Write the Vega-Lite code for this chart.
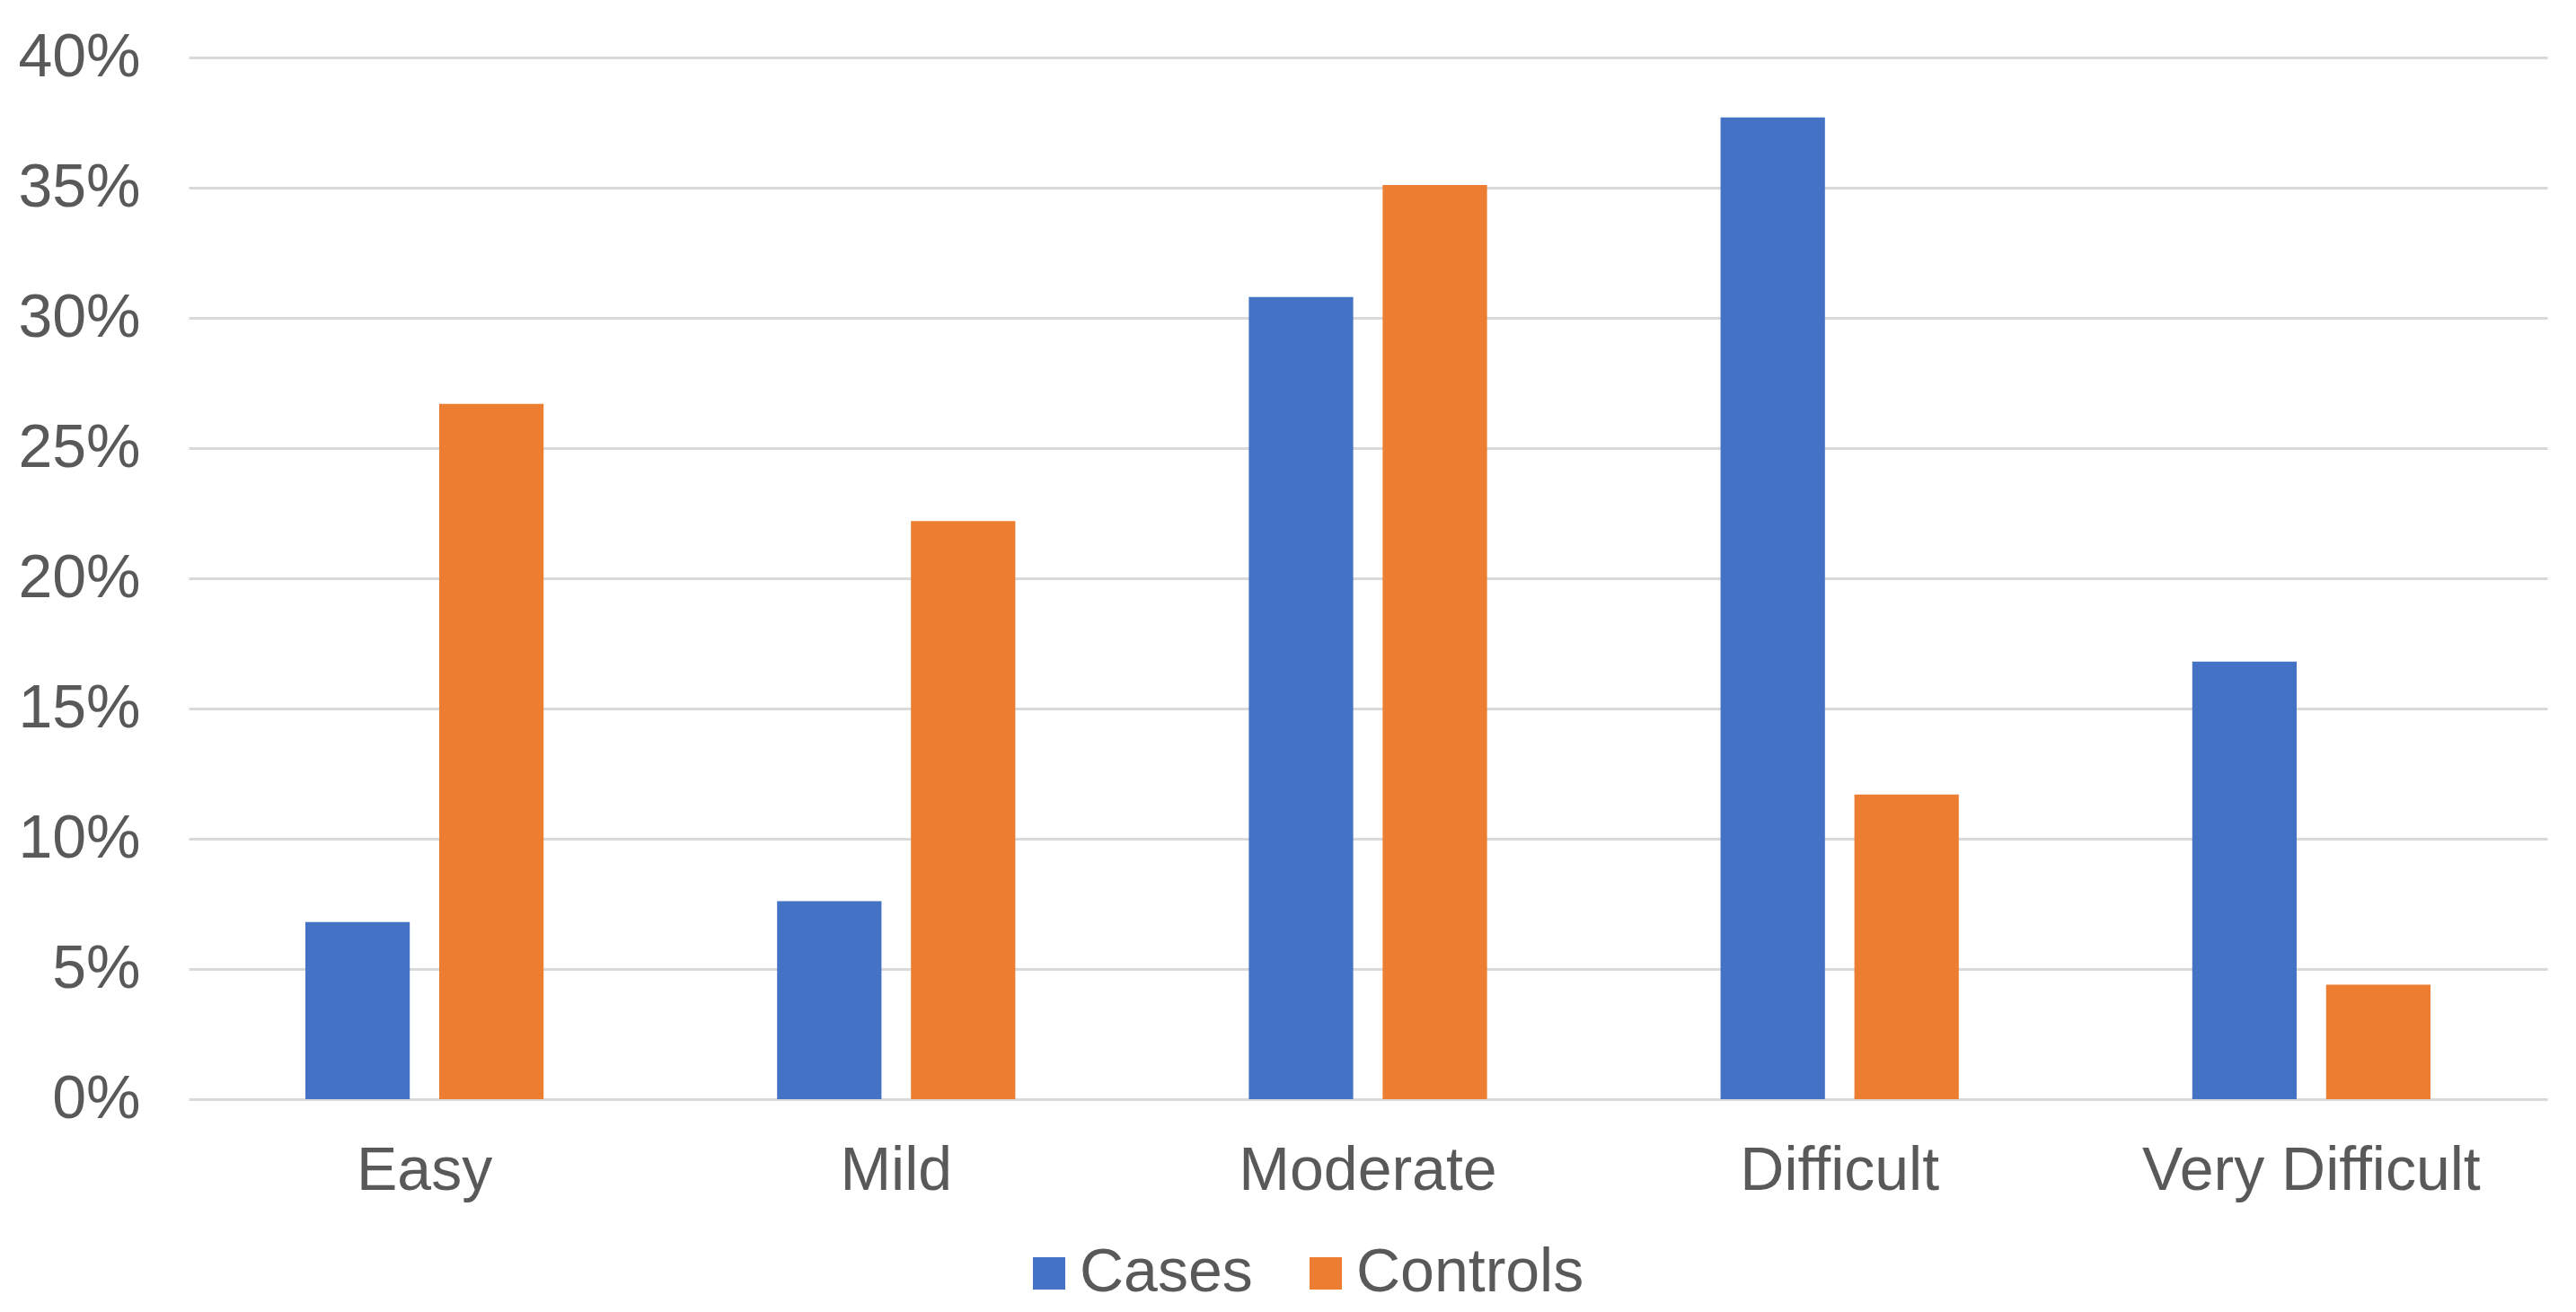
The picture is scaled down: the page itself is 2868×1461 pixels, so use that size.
{
  "$schema": "https://vega.github.io/schema/vega-lite/v6.json",
  "autosize": {"type": "none"},
  "padding": {"left": 210, "top": 64, "right": 32, "bottom": 237},
  "width": 2626,
  "height": 1160,
  "background": "white",
  "data": {
    "values": [
      {"difficulty": "Easy", "group": "Cases", "value": 0.068},
      {"difficulty": "Easy", "group": "Controls", "value": 0.267},
      {"difficulty": "Mild", "group": "Cases", "value": 0.076},
      {"difficulty": "Mild", "group": "Controls", "value": 0.222},
      {"difficulty": "Moderate", "group": "Cases", "value": 0.308},
      {"difficulty": "Moderate", "group": "Controls", "value": 0.351},
      {"difficulty": "Difficult", "group": "Cases", "value": 0.377},
      {"difficulty": "Difficult", "group": "Controls", "value": 0.117},
      {"difficulty": "Very Difficult", "group": "Cases", "value": 0.168},
      {"difficulty": "Very Difficult", "group": "Controls", "value": 0.044}
    ]
  },
  "mark": {"type": "bar"},
  "encoding": {
    "x": {
      "field": "difficulty",
      "type": "nominal",
      "sort": ["Easy", "Mild", "Moderate", "Difficult", "Very Difficult"],
      "scale": {"paddingInner": 0.495, "paddingOuter": 0.2475},
      "axis": {
        "title": null,
        "labelAngle": 0,
        "domain": false,
        "ticks": false,
        "labelPadding": 46,
        "labelFontSize": 68,
        "labelLimit": 0,
        "labelFont": "Liberation Sans",
        "labelColor": "#595959"
      }
    },
    "xOffset": {
      "field": "group",
      "type": "nominal",
      "scale": {"paddingInner": 0.22}
    },
    "y": {
      "field": "value",
      "type": "quantitative",
      "scale": {"domain": [0, 0.4], "nice": false},
      "axis": {
        "title": null,
        "values": [0, 0.05, 0.1, 0.15, 0.2, 0.25, 0.3, 0.35, 0.4],
        "format": ".0%",
        "domain": false,
        "ticks": false,
        "labelPadding": 54,
        "labelFontSize": 68,
        "labelLimit": 0,
        "labelFont": "Liberation Sans",
        "labelColor": "#595959",
        "gridColor": "#d9d9d9",
        "gridWidth": 3
      }
    },
    "color": {
      "field": "group",
      "type": "nominal",
      "scale": {"domain": ["Cases", "Controls"], "range": ["#4472C4", "#ED7D31"]},
      "legend": {
        "title": null,
        "orient": "none",
        "direction": "horizontal",
        "legendX": 924,
        "legendY": 1320,
        "symbolType": "square",
        "symbolSize": 1296,
        "symbolStrokeWidth": 0,
        "labelFontSize": 68,
        "labelLimit": 0,
        "labelFont": "Liberation Sans",
        "labelColor": "#595959",
        "labelOffset": 0,
        "columnPadding": 47
      }
    }
  },
  "config": {"view": {"stroke": null}}
}
